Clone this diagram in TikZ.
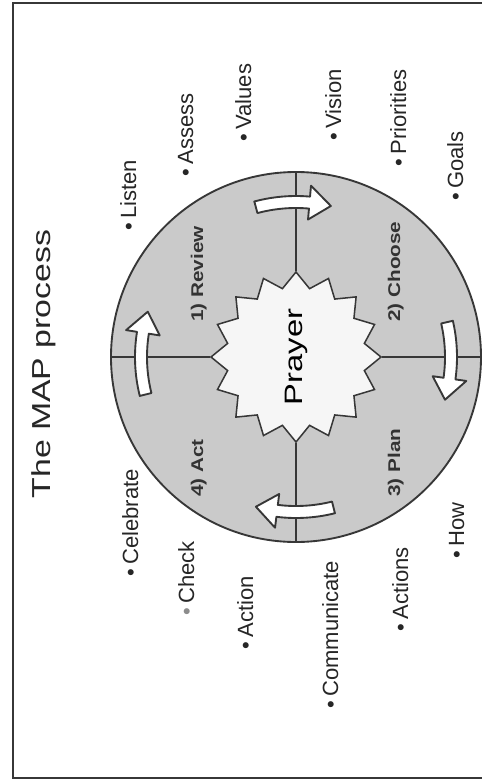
\documentclass[tikz,border=0pt]{standalone}
\usepackage{graphicx}
\usepackage{fontspec}
\setmainfont{Liberation Sans}
\usetikzlibrary{shapes.geometric}
\definecolor{inkgray}{RGB}{55,55,55}
\definecolor{ringgray}{RGB}{202,202,202}
\definecolor{hubwhite}{RGB}{246,246,246}

\begin{document}
\begin{tikzpicture}[x=0.03cm, y=-0.03cm]
  \tikzset{
    ring/.style={circle, draw=inkgray, fill=ringgray, line width=1.6pt,
      minimum size=11.1cm, inner sep=0},
    hub/.style={star, star points=16, star point ratio=1.22, draw=inkgray,
      fill=hubwhite, line width=1.3pt, minimum size=5.1cm, inner sep=0},
    spoke/.style={draw=inkgray, line width=1.6pt},
    turn/.style={draw=inkgray, fill=white, line width=1.6pt, line join=round},
    item/.style={rotate=90, anchor=base west, inner sep=0, text=black!85,
      font=\fontsize{18.8}{22}\selectfont},
    stage/.style={rotate=90, xscale=1.22, anchor=base west, inner sep=0,
      text=black!80, font=\bfseries\fontsize{14.5}{17}\selectfont},
    heading/.style={rotate=90, xscale=1.3, anchor=base, inner sep=0,
      text=black!85, font=\fontsize{22.2}{26}\selectfont}
  }

  % page and frame
  \useasboundingbox[fill=white] (0,0) rectangle (482,781);
  \draw[inkgray, line width=1.2pt] (482,3) -- (13,3) -- (13,778) -- (482,778);

  % title
  \node[heading] (title) at (50,364) {The MAP process};

  % the wheel
  \node[ring] (wheel) at (296,357) {};
  \node[hub] (prayer) at (296,357)
    {\rotatebox{90}{\scalebox{1.3}[1]{\fontsize{21.5}{25}\selectfont Prayer}}};

  % dividers
  \draw[spoke] (wheel.north) -- (prayer.north);
  \draw[spoke] (wheel.south) -- (prayer.south);
  \draw[spoke] (wheel.west) -- (prayer.west);
  \draw[spoke] (wheel.east) -- (prayer.east);

  % arrows round the ring
  \foreach \a/\e in {166/197, 255/283, 347/376, 76/105}{
    \draw[turn, shift={(wheel.center)}] (\a:161)
      arc[start angle=\a, end angle=\e-8, radius=161] -- (\e-8:172)
      -- (\e:155) -- (\e-8:138) -- (\e-8:149)
      arc[start angle=\e-8, end angle=\a, radius=149] -- cycle;
  }

  % stages
  \node[stage] (review) at (203,322) {1) Review};
  \node[stage] (choose) at (400,322) {2) Choose};
  \node[stage] (plan) at (400,497) {3) Plan};
  \node[stage] (act) at (203,497) {4) Act};

  % bullet points
  \node[item] (listen) at (136,231) {•\hspace{0.2em}Listen};
  \node[item] (assess) at (193,177) {•\hspace{0.2em}Assess};
  \node[item] (values) at (251,142) {•\hspace{0.2em}Values};
  \node[item] (vision) at (341,141) {•\hspace{0.2em}Vision};
  \node[item] (priorities) at (406,167) {•\hspace{0.2em}Priorities};
  \node[item] (goals) at (463,201) {•\hspace{0.2em}Goals};

  \node[item] (celebrate) at (138,577) {•\hspace{0.2em}Celebrate};
  \node[item] (check) at (194,616) {{\color{black!45}•}\hspace{0.2em}Check};
  \node[item] (action) at (253,650) {•\hspace{0.2em}Action};
  \node[item] (communicate) at (338,709) {•\hspace{0.2em}Communicate};
  \node[item] (actions) at (408,632) {•\hspace{0.2em}Actions};
  \node[item] (how) at (464,559) {•\hspace{0.2em}How};

\end{tikzpicture}
\end{document}
